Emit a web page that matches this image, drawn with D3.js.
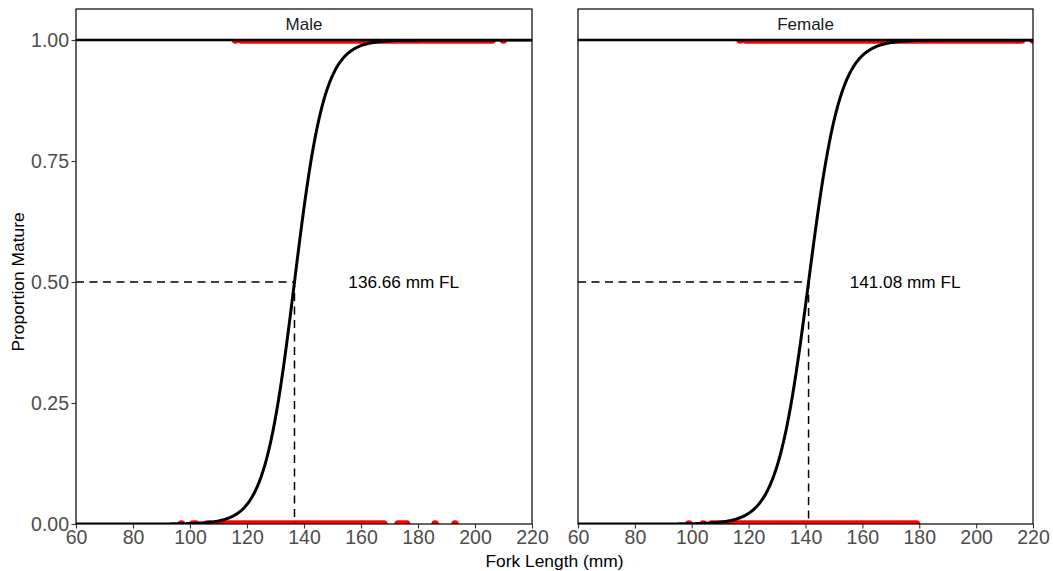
<!DOCTYPE html>
<html>
<head>
<meta charset="utf-8">
<script src="https://cdn.jsdelivr.net/npm/d3@7"></script>
<style>
  html, body { margin: 0; padding: 0; background: #fff; }
  svg { display: block; font-family: "Liberation Sans", Arial, sans-serif; }
</style>
</head>
<body>
<svg id="chart" width="1053" height="571"></svg>
<script>
// ---- data ----
const panels = ["Male", "Female"];
const l50 = [136.66, 141.08];
const slopes = [0.19, 0.18];
const labels = ["136.66 mm FL", "141.08 mm FL"];
const xTicks = [60, 80, 100, 120, 140, 160, 180, 200, 220];
const yTicks = [0, 0.25, 0.5, 0.75, 1];

const maleMature = [116, 118, 119, 120, 121, 122, 123, 124, 125, 126, 127, 128, 129, 130, 131, 132, 133, 134, 135, 136, 137, 138, 139, 140, 141, 142, 143, 144, 145, 146, 147, 148, 149, 150, 151, 152, 153, 154, 155, 156, 157, 158, 159, 160, 161, 162, 163, 164, 165, 166, 167, 168, 169, 170, 171, 172, 173, 174, 175, 176, 177, 178, 179, 180, 181, 182, 183, 184, 185, 186, 187, 188, 189, 190, 191, 192, 193, 194, 195, 196, 197, 198, 199, 200, 201, 202, 203, 204, 205, 206, 210];
const maleImmature = [97, 101, 102, 106, 107, 110, 111, 112, 113, 114, 115, 116, 117, 118, 119, 120, 121, 122, 123, 124, 125, 126, 127, 128, 129, 130, 131, 132, 133, 134, 135, 136, 137, 138, 139, 140, 141, 142, 143, 144, 145, 146, 147, 148, 149, 150, 151, 152, 153, 154, 155, 156, 157, 158, 159, 160, 161, 162, 163, 164, 165, 166, 167, 168, 173, 174, 175, 176, 186, 193];
const femaleMature = [117, 119, 120, 121, 122, 123, 124, 125, 126, 127, 128, 129, 130, 131, 132, 133, 134, 135, 136, 137, 138, 139, 140, 141, 142, 143, 144, 145, 146, 147, 148, 149, 150, 151, 152, 153, 154, 155, 156, 157, 158, 159, 160, 161, 162, 163, 164, 165, 166, 167, 168, 169, 170, 171, 172, 173, 174, 175, 176, 177, 178, 179, 180, 181, 182, 183, 184, 185, 186, 187, 188, 189, 190, 191, 192, 193, 194, 195, 196, 197, 198, 199, 200, 201, 202, 203, 204, 205, 206, 207, 208, 209, 210, 211, 212, 213, 214, 215, 216, 220];
const femaleImmature = [99, 104, 107, 108, 109, 110, 111, 112, 113, 114, 115, 116, 117, 118, 119, 120, 121, 122, 123, 124, 125, 126, 127, 128, 129, 130, 131, 132, 133, 134, 135, 136, 137, 138, 139, 140, 141, 142, 143, 144, 145, 146, 147, 148, 149, 150, 151, 152, 153, 154, 155, 156, 157, 158, 159, 160, 161, 162, 163, 164, 165, 166, 167, 168, 169, 170, 171, 172, 173, 174, 175, 176, 177, 178, 179];
const matureData = [maleMature, femaleMature];
const immatureData = [maleImmature, femaleImmature];

// ---- layout ----
const svg = d3.select("#chart");
const panelX = [[76, 532], [578, 1033]];
const panelTop = 40, panelBottom = 524, stripTop = 9;
const y = d3.scaleLinear().domain([0, 1]).range([panelBottom, panelTop]);

panels.forEach((name, i) => {
  const x = d3.scaleLinear().domain([60, 220]).range(panelX[i]);
  const g = svg.append("g");
  const clipId = "clip" + i;
  svg.append("clipPath").attr("id", clipId)
    .append("rect").attr("x", panelX[i][0]).attr("y", panelTop)
    .attr("width", panelX[i][1] - panelX[i][0]).attr("height", panelBottom - panelTop);
  const inner = g.append("g").attr("clip-path", `url(#${clipId})`);

  // points
  const pts = matureData[i].map(v => ({x: v, y: 1}))
    .concat(immatureData[i].map(v => ({x: v, y: 0})));
  inner.selectAll("circle.pt").data(pts).enter().append("circle")
    .attr("cx", d => x(d.x)).attr("cy", d => y(d.y)).attr("r", 3.8)
    .attr("fill", "#FF0000");

  // fitted logistic curve
  const xs = d3.range(60, 220.01, 0.25);
  const curve = xs.map(v => [v, 1 / (1 + Math.exp(-slopes[i] * (v - l50[i])))]);
  inner.append("path").datum(curve)
    .attr("fill", "none").attr("stroke", "#000").attr("stroke-width", 3)
    .attr("d", d3.line().x(d => x(d[0])).y(d => y(d[1])));

  // dashed reference lines
  inner.append("path")
    .attr("d", d3.line()([[x(60), y(0.5)], [x(l50[i]), y(0.5)], [x(l50[i]), y(0)]]))
    .attr("fill", "none").attr("stroke", "#000").attr("stroke-width", 1.5)
    .attr("stroke-dasharray", "8,5.5");

  // label
  g.append("text").attr("x", x(175)).attr("y", y(0.5))
    .attr("text-anchor", "middle").attr("dominant-baseline", "central")
    .attr("font-size", 17.2).attr("fill", "#000").text(labels[i]);

  // panel border
  g.append("rect").attr("x", panelX[i][0]).attr("y", panelTop)
    .attr("width", panelX[i][1] - panelX[i][0]).attr("height", panelBottom - panelTop)
    .attr("fill", "none").attr("stroke", "#000").attr("stroke-width", 1.2);

  // strip
  g.append("rect").attr("x", panelX[i][0]).attr("y", stripTop)
    .attr("width", panelX[i][1] - panelX[i][0]).attr("height", panelTop - stripTop)
    .attr("fill", "#fff").attr("stroke", "#000").attr("stroke-width", 1.2);
  g.append("line").attr("x1", panelX[i][0]).attr("x2", panelX[i][1])
    .attr("y1", panelTop).attr("y2", panelTop).attr("stroke", "#000").attr("stroke-width", 2.4);
  g.append("text").attr("x", (panelX[i][0] + panelX[i][1]) / 2).attr("y", (stripTop + panelTop) / 2)
    .attr("text-anchor", "middle").attr("dominant-baseline", "central")
    .attr("font-size", 17).attr("fill", "#1a1a1a").text(name);

  // x axis
  const xa = g.append("g").attr("transform", `translate(0,${panelBottom})`)
    .call(d3.axisBottom(x).tickValues(xTicks).tickSize(4.5).tickPadding(2).tickFormat(d3.format("d")));
  xa.select(".domain").remove();
  xa.selectAll("line").attr("stroke", "#333").attr("stroke-width", 1.1);
  xa.selectAll("text").attr("font-size", 19.5).attr("fill", "#4D4D4D")
    .attr("font-family", "Liberation Sans, Arial, sans-serif");

  // y axis (left panel only)
  if (i === 0) {
    const ya = g.append("g").attr("transform", `translate(${panelX[i][0]},0)`)
      .call(d3.axisLeft(y).tickValues(yTicks).tickSize(4.5).tickPadding(2.5).tickFormat(d3.format(".2f")));
    ya.select(".domain").remove();
    ya.selectAll("line").attr("stroke", "#333").attr("stroke-width", 1.1);
    ya.selectAll("text").attr("font-size", 19.5).attr("fill", "#4D4D4D")
      .attr("font-family", "Liberation Sans, Arial, sans-serif");
  }
});

// axis titles
svg.append("text").attr("x", (76 + 1033) / 2).attr("y", 561)
  .attr("text-anchor", "middle").attr("dominant-baseline", "central")
  .attr("font-size", 17.4).attr("fill", "#000").text("Fork Length (mm)");
svg.append("text").attr("transform", `translate(18,${(panelTop + panelBottom) / 2}) rotate(-90)`)
  .attr("text-anchor", "middle").attr("dominant-baseline", "central")
  .attr("font-size", 17.4).attr("fill", "#000").text("Proportion Mature");
</script>
</body>
</html>
